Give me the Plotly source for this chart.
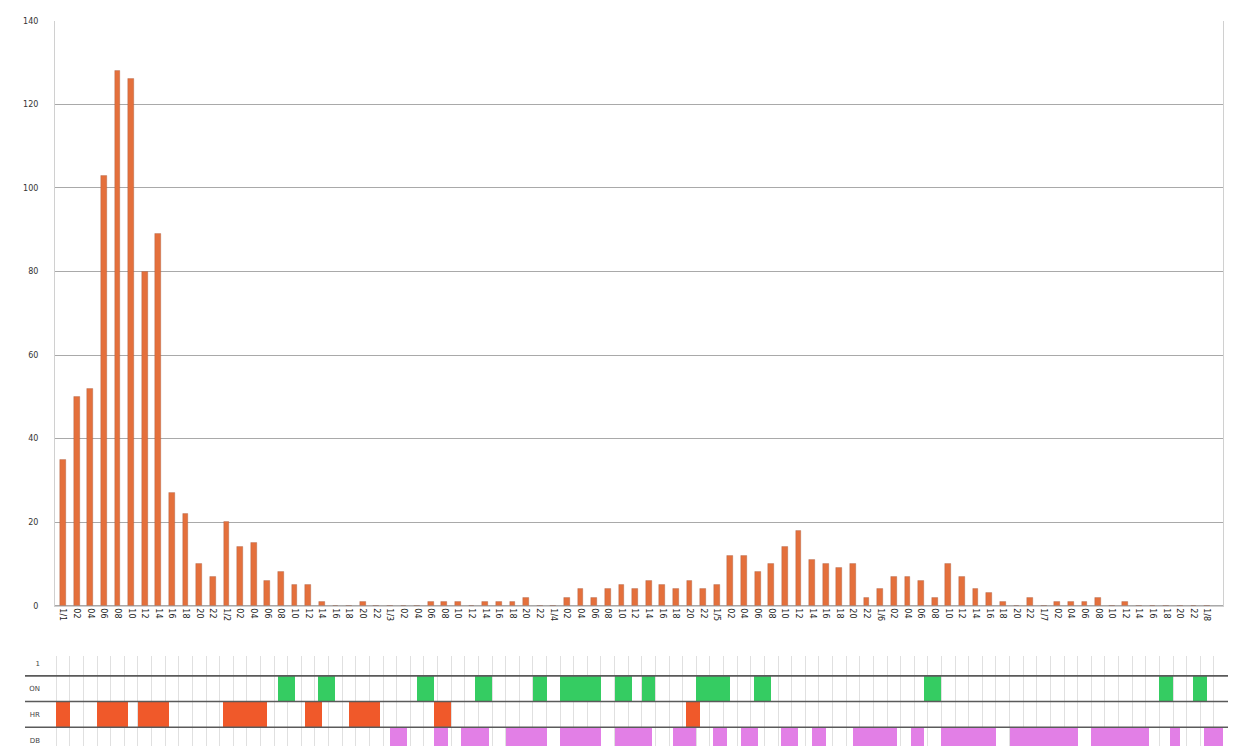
import plotly.graph_objects as go

# Two-hour bins over eight days (hour offset of each bin)
hours = list(range(0, 170, 2))

counts = [
    35, 50, 52, 103, 128, 126, 80, 89, 27, 22, 10, 7,
    20, 14, 15, 6, 8, 5, 5, 1, 0, 0, 1, 0,
    0, 0, 0, 1, 1, 1, 0, 1, 1, 1, 2, 0,
    0, 2, 4, 2, 4, 5, 4, 6, 5, 4, 6, 4,
    5, 12, 12, 8, 10, 14, 18, 11, 10, 9, 10, 2,
    4, 7, 7, 6, 2, 10, 7, 4, 3, 1, 0, 2,
    0, 1, 1, 1, 2, 0, 1, 0, 0, 0, 0, 0, 0,
]

day_labels = ["1/1", "1/2", "1/3", "1/4", "1/5", "1/6", "1/7", "1/8"]
hour_labels = ["02", "04", "06", "08", "10", "12", "14", "16", "18", "20", "22"]
tick_text = []
for h in hours:
    if h % 24 == 0:
        tick_text.append(day_labels[h // 24])
    else:
        tick_text.append(hour_labels[(h % 24) // 2 - 1])

# Status periods (start hour, end hour) per row
on_periods = [(31.5, 34), (37.5, 40), (52, 54.5), (60.5, 63), (69, 71), (73, 79),
              (81, 83.5), (85, 87), (93, 98), (101.5, 104), (126.5, 129),
              (161, 163), (166, 168)]
hr_periods = [(-1, 1), (5, 9.5), (11, 15.5), (23.5, 30), (35.5, 38), (42, 46.5),
              (54.5, 57), (91.5, 93.5)]
db_periods = [(48, 50.5), (54.5, 56.5), (58.5, 62.5), (65, 71), (73, 79), (81, 86.5),
              (89.5, 93), (95.5, 97.5), (99.5, 102), (105.5, 108), (110, 112),
              (116, 122.5), (124.5, 126.5), (129, 137), (139, 149), (151, 159.5),
              (162.5, 164), (167.5, 171)]
row_names = ["1", "ON", "HR", "DB"]
row_pos = [3.46, 2.5, 1.5, 0.5]

W, H = 1236, 751
x_range = [(55 - 63) / 6.81, (1223 - 63) / 6.81]

fig = go.Figure()

fig.add_trace(go.Bar(
    x=hours, y=counts, width=0.85,
    marker=dict(color="#E4703C", line=dict(color="rgba(150,85,60,0.6)", width=0.5)),
    xaxis="x", yaxis="y", showlegend=False,
))


def add_row(periods, y, color):
    fig.add_trace(go.Bar(
        orientation="h",
        base=[a for a, b in periods],
        x=[b - a for a, b in periods],
        y=[y] * len(periods),
        width=1.0,
        marker=dict(color=color, line=dict(width=0)),
        xaxis="x2", yaxis="y2", showlegend=False,
    ))


add_row(on_periods, 2.5, "#35CC62")
add_row(hr_periods, 1.5, "#F0592A")
add_row(db_periods, 0.5, "#E27FE6")

# Row separator lines of the status strip
for yv in [3, 2, 1]:
    fig.add_shape(type="line", xref="paper", yref="y2",
                  x0=25 / W, x1=1228 / W, y0=yv, y1=yv,
                  line=dict(color="#5a5a5a", width=1.6), layer="above")

fig.update_layout(
    width=W, height=H,
    margin=dict(l=0, r=0, t=0, b=0),
    paper_bgcolor="white", plot_bgcolor="white",
    bargap=0, barmode="overlay",
    font=dict(family="DejaVu Sans", color="#333333"),
    xaxis=dict(
        domain=[55 / W, 1223 / W], range=x_range,
        tickmode="array", tickvals=hours, ticktext=tick_text,
        tickangle=90, tickfont=dict(size=8, color="#222222"),
        showgrid=False, zeroline=False,
        showline=True, linecolor="#d0d0d0", mirror=False,
        ticks="", anchor="y",
    ),
    yaxis=dict(
        domain=[1 - 609 / H, 1 - 17 / H], range=[0, 140],
        tickvals=[0, 20, 40, 60, 80, 100, 120, 140],
        tickfont=dict(size=8, color="#333333"),
        showgrid=True, gridcolor="#a9a9a9", gridwidth=1,
        zeroline=True, zerolinecolor="#a9a9a9",
        showline=True, linecolor="#d0d0d0", mirror=True,
        ticks="", ticklabelstandoff=14, anchor="x",
    ),
    xaxis2=dict(
        domain=[55 / W, 1223 / W], range=x_range,
        tick0=1, dtick=2, showticklabels=False,
        showgrid=True, gridcolor="#e0e0e0", gridwidth=1,
        zeroline=False, showline=False, anchor="y2",
    ),
    yaxis2=dict(
        domain=[0, (H - 660) / H], range=[3 - (H - 680) / 26, 3 + 20 / 26],
        tickmode="array", tickvals=row_pos, ticktext=row_names,
        tickfont=dict(size=7, color="#444444"),
        showgrid=False, zeroline=False, showline=False,
        ticks="", ticklabelstandoff=14, anchor="x2",
    ),
)

fig.write_html("out.html")
